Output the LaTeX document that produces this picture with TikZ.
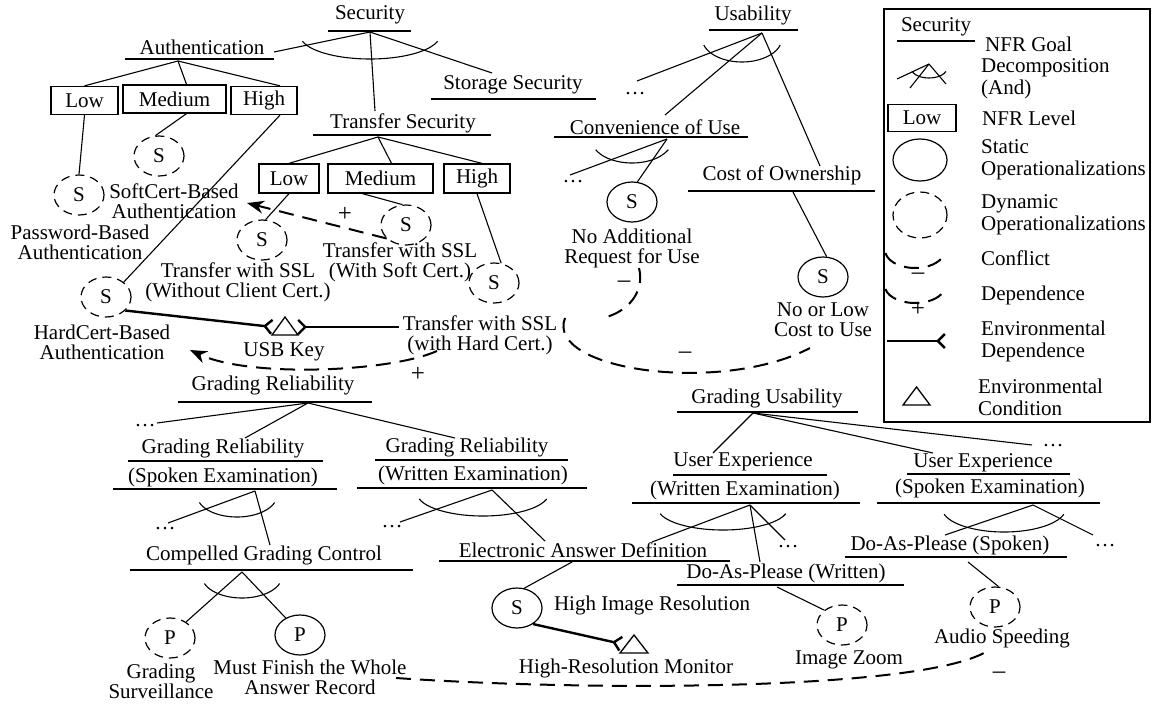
\documentclass[tikz,border=0pt]{standalone}
\usepackage{fontspec}
\setmainfont{Liberation Serif}
\usetikzlibrary{arrows.meta,shapes.geometric}
\newcommand{\nfrfont}{\fontsize{21}{20}\selectfont}
\newcommand{\keyfont}{\fontsize{21}{22}\selectfont}
\newcommand{\signfont}{\fontsize{25}{25}\selectfont}
\begin{document}
\begin{tikzpicture}[x=1pt,y=-1pt,
  txt/.style={inner sep=0pt, align=center, font=\nfrfont},
  ltxt/.style={inner sep=0pt, align=left, anchor=west, font=\keyfont},
  goal/.style={line width=1.8pt},
  lnk/.style={line width=1.1pt},
  lvl/.style={draw, line width=1.3pt, minimum height=28pt, inner sep=0pt, font=\nfrfont},
  sop/.style={draw, ellipse, line width=1.2pt, minimum width=50pt, minimum height=40pt, inner sep=0pt, font=\nfrfont},
  dop/.style={sop, dash pattern=on 9pt off 6pt},
  cfl/.style={line width=2pt, dash pattern=on 15pt off 9pt},
  dep/.style={cfl, -{Stealth[length=17pt,width=13pt]}},
  envdep/.style={line width=2.4pt, -{Straight Barb[reversed,length=7pt,width=14pt]}},
  envc/.style={line width=1.3pt, line join=miter},
  sign/.style={inner sep=0pt, font=\signfont}
]
\useasboundingbox (0,0) rectangle (1153,706);

% ---------------- Security
\node[txt] (sec) at (370,15) {Security};
\draw[goal] (328,31) -- (411,31);
\coordinate (secR) at (370,32);
\node[txt] (auth) at (202,47) {Authentication};
\draw[goal] (125,59) -- (274,59);
\coordinate (authR) at (178,61);
\coordinate (authE) at (274,52);
\node[txt] (stor) at (513,85) {Storage Security};
\draw[goal] (431,99) -- (596,99);
\coordinate (storT) at (492,73);
\node[txt] (tsec) at (403,123) {Transfer Security};
\draw[goal] (313,135) -- (491,135);
\coordinate (tsecT) at (375,111);
\coordinate (tsecR) at (378,137);
\draw[lnk] (secR) -- (authE);
\draw[lnk] (secR) -- (tsecT);
\draw[lnk] (secR) -- (storT);
\draw[lnk] (370,35) ++(165:70 and 24) arc (165:15:70 and 24);

% Authentication levels
\node[lvl, minimum width=67pt] (aLow) at (84.5,100.5) {Low};
\node[lvl, minimum width=103pt] (aMed) at (174.5,99) {Medium};
\node[lvl, minimum width=66pt] (aHigh) at (264,100.5) {High};
\draw[lnk] (authR) -- (aLow.north);
\draw[lnk] (authR) -- ([xshift=12pt]aMed.north);
\draw[lnk] (authR) -- ([xshift=16pt]aHigh.north);

\node[dop] (eSoft) at (159,156) {S};
\node[dop] (ePw) at (79,195) {S};
\node[dop] (eHard) at (106,297) {S};
\draw[lnk] ([xshift=12pt]aMed.south) -- (eSoft.100);
\draw[lnk] (aLow.south) -- (ePw.north);
\draw[lnk] ([xshift=16pt]aHigh.south) -- (eHard.40);
\node[txt] (softL) at (174,201) {SoftCert-Based\\Authentication};
\node[txt] (pwL) at (80,242) {Password-Based\\Authentication};
\node[txt] (hardL) at (102,342) {HardCert-Based\\Authentication};

% Transfer levels
\node[lvl, minimum width=60pt, minimum height=29pt] (tLow) at (289,178.5) {Low};
\node[lvl, minimum width=105pt, minimum height=29pt] (tMed) at (380.5,178.5) {Medium};
\node[lvl, minimum width=66pt, minimum height=29pt] (tHigh) at (477,178.5) {High};
\draw[lnk] (tsecR) -- (tLow.north);
\draw[lnk] (tsecR) -- ([xshift=11pt]tMed.north);
\draw[lnk] (tsecR) -- ([xshift=5pt]tHigh.north);

\node[dop] (eWo) at (262,240) {S};
\node[dop] (eWs) at (406,225) {S};
\node[dop] (eWh) at (494,283) {S};
\draw[lnk] (tLow.south) -- (eWo.80);
\draw[lnk] ([xshift=-18pt]tMed.south) -- (eWs.100);
\draw[lnk] (tHigh.south) -- (eWh.70);
\node[txt] (woL) at (238,282) {Transfer with SSL\\(Without Client Cert.)};
\node[txt] (wsL) at (400,262) {Transfer with SSL\\(With Soft Cert.)};
\node[txt] (whL) at (480,335) {Transfer with SSL\\(with Hard Cert.)};

% USB key condition
\coordinate (usb) at (285,335);
\draw[envc] (272,335) -- (285,317) -- (298,335) -- cycle;
\node[txt] (usbL) at (284,352) {USB Key};
\coordinate (usbW) at (273,327);
\coordinate (usbE) at (297,327);
\coordinate (whW) at (399,327);
\draw[envdep] (eHard.-35) -- (usbW);
\draw[envdep] (whW) -- (usbE);

% dependences
\coordinate (softE) at (247,203);
\coordinate (hardE) at (190,350);
\coordinate (whS) at (437,351);
\draw[dep] (eWs.215) -- (softE);
\node[sign] (p1) at (345,214) {+};
\draw[dep] (whS) .. controls (390,372) and (250,378) .. (hardE);
\node[sign] (p2) at (418,374) {+};

% ---------------- Usability
\node[txt] (usa) at (753,15) {Usability};
\draw[goal] (709,30) -- (798,30);
\coordinate (usaR) at (762,33);
\node[txt] (dU) at (635,94) {\dots};
\coordinate (dUt) at (637,81);
\node[txt] (conv) at (655,127) {Convenience of Use};
\draw[goal] (554,137) -- (748,137);
\coordinate (convT) at (665,115);
\coordinate (convR) at (667,139);
\node[txt] (cost) at (782,175) {Cost of Ownership};
\draw[goal] (688,191) -- (875,191);
\coordinate (costT) at (820,166);
\coordinate (costR) at (793,192);
\draw[lnk] (usaR) -- (dUt);
\draw[lnk] (usaR) -- (convT);
\draw[lnk] (usaR) -- (costT);
\draw[lnk] (742,38) ++(163:40 and 24) arc (163:17:40 and 24);

\node[txt] (dC) at (573,182) {\dots};
\coordinate (dCt) at (570,175);
\node[sop] (eNa) at (632,202) {S};
\draw[lnk] (convR) -- (dCt);
\draw[lnk] (convR) -- (eNa.75);
\draw[lnk] (632,140) ++(155:40 and 23) arc (155:25:40 and 23);
\node[txt] (naL) at (632,248) {No Additional\\Request for Use};

\node[sop] (eNl) at (823,277) {S};
\draw[lnk] (costR) -- (eNl.80);
\node[txt] (nlL) at (823,320) {No or Low\\Cost to Use};

% conflicts
\coordinate (c1s) at (639,268);
\coordinate (c1e) at (603,318);
\draw[cfl] (c1s) .. controls (645,292) and (628,312) .. (c1e);
\node[sign] (m1) at (624,284) {--};
\coordinate (c2s) at (565,318);
\coordinate (c2e) at (810,348);
\draw[cfl] (c2s) .. controls (545,370) and (720,395) .. (c2e);
\node[sign] (m2) at (685,355) {--};

% ---------------- Grading reliability
\node[txt] (gr) at (273,385) {Grading Reliability};
\draw[goal] (178,402) -- (372,402);
\coordinate (grR) at (308,403);
\node[txt] (dG) at (145,426) {\dots};
\coordinate (dGt) at (157,423);
\node[txt] (grs1) at (223,448) {Grading Reliability};
\draw[goal] (128,461) -- (323,461);
\node[txt] (grs2) at (223,477) {(Spoken Examination)};
\draw[goal] (113,489) -- (337,489);
\coordinate (grsT) at (245,438);
\coordinate (grsR) at (255,491);
\node[txt] (grw1) at (467,447) {Grading Reliability};
\draw[goal] (375,460) -- (568,460);
\node[txt] (grw2) at (473,475) {(Written Examination)};
\draw[goal] (357,488) -- (587,488);
\coordinate (grwT) at (455,438);
\coordinate (grwR) at (492,490);
\draw[lnk] (grR) -- (dGt);
\draw[lnk] (grR) -- (grsT);
\draw[lnk] (grR) -- (grwT);

\node[txt] (dS) at (165,529) {\dots};
\coordinate (dSt) at (168,523);
\node[txt] (cgc) at (264,555) {Compelled Grading Control};
\draw[goal] (130,570) -- (413,570);
\coordinate (cgcT) at (270,545);
\coordinate (cgcR) at (242,572);
\draw[lnk] (grsR) -- (dSt);
\draw[lnk] (grsR) -- (cgcT);
\draw[lnk] (237,495) ++(160:40 and 22) arc (160:20:40 and 22);

\node[txt] (dW) at (392,527) {\dots};
\coordinate (dWt) at (400,522);
\node[txt] (ead) at (583,550) {Electronic Answer Definition};
\draw[goal] (439,561) -- (730,561);
\coordinate (eadT) at (545,541);
\coordinate (eadR) at (572,562);
\draw[lnk] (grwR) -- (dWt);
\draw[lnk] (grwR) -- (eadT);
\draw[lnk] (483,493) ++(165:66 and 23) arc (165:15:66 and 23);

\node[dop] (eGs) at (170,638) {P};
\node[sop] (eMf) at (300,635) {P};
\draw[lnk] (cgcR) -- (eGs.45);
\draw[lnk] (cgcR) -- (eMf.130);
\draw[lnk] (242,576) ++(160:40 and 22) arc (160:20:40 and 22);
\node[txt] (gsL) at (161,681) {Grading\\Surveillance};
\node[txt] (mfL) at (310,677) {Must Finish the Whole\\Answer Record};

\node[sop] (eHi) at (517,608) {S};
\draw[lnk] (eadR) -- (eHi.70);
\node[txt] (hiL) at (652,605) {High Image Resolution};
\coordinate (mon) at (634,653);
\draw[envc] (620,653) -- (634,635) -- (648,653) -- cycle;
\coordinate (monW) at (622,644);
\draw[envdep] (eHi.-45) -- (monW);
\node[txt] (monL) at (626,668) {High-Resolution Monitor};

% ---------------- Grading usability
\node[txt] (gu) at (767,398) {Grading Usability};
\draw[goal] (677,412) -- (858,412);
\coordinate (guR) at (753,413);
\node[txt] (dU2) at (1053,446) {\dots};
\coordinate (dU2t) at (1032,445);
\node[txt] (uew1) at (743,462) {User Experience};
\draw[goal] (673,475) -- (827,475);
\node[txt] (uew2) at (745,490) {(Written Examination)};
\draw[goal] (632,503) -- (860,503);
\coordinate (uewT) at (713,453);
\coordinate (uewR) at (750,505);
\node[txt] (ues1) at (983,463) {User Experience};
\draw[goal] (907,474) -- (1070,474);
\node[txt] (ues2) at (990,488) {(Spoken Examination)};
\draw[goal] (877,503) -- (1100,503);
\coordinate (uesT) at (933,453);
\coordinate (uesR) at (1033,505);
\draw[lnk] (guR) -- (uewT);
\draw[lnk] (guR) -- (uesT);
\draw[lnk] (guR) -- (dU2t);

\node[txt] (dE) at (788,547) {\dots};
\coordinate (dEt) at (785,540);
\node[txt] (dapw) at (786,573) {Do-As-Please (Written)};
\draw[goal] (677,585) -- (904,585);
\coordinate (dapwT) at (760,562);
\coordinate (dapwR) at (777,587);
\coordinate (eadE) at (652,542);
\draw[lnk] (uewR) -- (eadE);
\draw[lnk] (uewR) -- (dapwT);
\draw[lnk] (uewR) -- (dEt);
\draw[lnk] (723,508) ++(165:65 and 22) arc (165:15:65 and 22);

\node[txt] (daps) at (950,545) {Do-As-Please (Spoken)};
\draw[goal] (845,557) -- (1067,557);
\coordinate (dapsT) at (945,535);
\coordinate (dapsR) at (968,562);
\node[txt] (dSp) at (1105,546) {\dots};
\coordinate (dSpt) at (1093,535);
\draw[lnk] (uesR) -- (dapsT);
\draw[lnk] (uesR) -- (dSpt);
\draw[lnk] (1004,508) ++(165:62 and 24) arc (165:15:62 and 24);

\node[dop] (eIz) at (842,625) {P};
\node[dop] (eAs) at (995,607) {P};
\draw[lnk] (dapwR) -- (eIz.140);
\draw[lnk] (dapsR) -- (eAs.80);
\node[txt] (izL) at (849,660) {Image Zoom};
\node[txt] (asL) at (1002,638) {Audio Speeding};

\coordinate (c3s) at (396,678);
\coordinate (c3e) at (989,650);
\draw[cfl] (c3s) .. controls (600,692) and (930,690) .. (c3e);
\node[sign] (m3) at (999,675) {--};

% ---------------- Legend
\draw[line width=1.3pt] (884,9) rectangle (1150,422);
\node[txt] (kGoal) at (936,27) {Security};
\draw[goal] (897,41) -- (975,41);
\node[ltxt] (kGoalT) at (985,44) {NFR Goal};

\coordinate (kA) at (929,64);
\draw[lnk] (kA) -- (897,79);
\draw[lnk] (kA) -- (910,88);
\draw[lnk] (kA) -- (946,84);
\draw[lnk] (929,68) ++(160:18 and 10) arc (160:20:18 and 10);
\node[ltxt] (kDec) at (981,79) {Decomposition\\(And)};

\node[lvl, minimum width=68pt, minimum height=27pt] (kLow) at (922,118) {Low};
\node[ltxt] (kLvl) at (982,118) {NFR Level};

\node[sop, minimum width=54pt, minimum height=42pt] (kS) at (920,160) {};
\node[ltxt] (kSt) at (981,160) {Static\\Operationalizations};
\node[dop, minimum width=54pt, minimum height=46pt] (kD) at (920,215) {};
\node[ltxt] (kDy) at (981,215) {Dynamic\\Operationalizations};

\draw[cfl] (915,250) ++(170:30 and 18) arc (170:10:30 and 18);
\node[sign] (kM) at (918,276) {--};
\node[ltxt] (kCf) at (981,258) {Conflict};
\draw[cfl] (915,286) ++(170:30 and 17) arc (170:10:30 and 17);
\node[sign] (kP) at (918,309) {+};
\node[ltxt] (kDp) at (981,295) {Dependence};

\coordinate (kEa) at (887,341);
\coordinate (kEb) at (946,341);
\draw[envdep] (kEa) -- (kEb);
\node[ltxt] (kEd) at (981,341) {Environmental\\Dependence};

\draw[envc] (903,405) -- (916.5,387) -- (930,405) -- cycle;
\node[ltxt] (kEc) at (978,397) {Environmental\\Condition};
\end{tikzpicture}
\end{document}
